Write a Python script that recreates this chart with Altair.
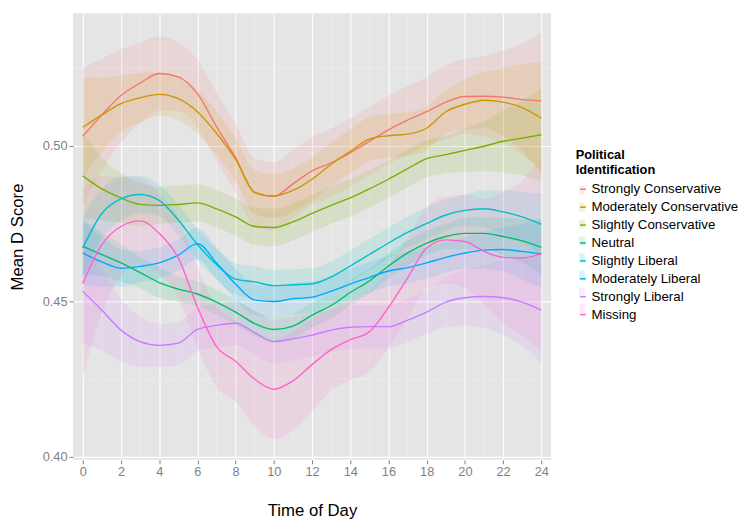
import altair as alt
import pandas as pd

groups = ["Strongly Conservative", "Moderately Conservative", "Slightly Conservative",
          "Neutral", "Slightly Liberal", "Moderately Liberal", "Strongly Liberal", "Missing"]
colors = ["#F8766D", "#CD9600", "#7CAE00", "#00BE67", "#00BFC4", "#00A9FF", "#C77CFF", "#FF61CC"]

hours = list(range(25))
x_ticks = list(range(0, 25, 2))
y_ticks = [0.40, 0.45, 0.50]
x_minor = list(range(1, 25, 2))
y_minor = [0.425, 0.475, 0.525]

strongly_cons = [0.5031, 0.5100, 0.5162, 0.5202, 0.5233, 0.5222, 0.5168, 0.5062, 0.4962, 0.4850,
                 0.4838, 0.4878, 0.4920, 0.4946, 0.4978, 0.5015, 0.5052, 0.5083, 0.5110, 0.5141,
                 0.5159, 0.5160, 0.5157, 0.5149, 0.5145]
moderately_cons = [0.5060, 0.5100, 0.5136, 0.5155, 0.5166, 0.5152, 0.5110, 0.5041, 0.4957, 0.4851,
                   0.4839, 0.4857, 0.4893, 0.4941, 0.4983, 0.5022, 0.5033, 0.5038, 0.5057, 0.5110,
                   0.5134, 0.5147, 0.5141, 0.5123, 0.5089]
slightly_cons = [0.4904, 0.4862, 0.4833, 0.4812, 0.4809, 0.4812, 0.4817, 0.4798, 0.4772, 0.4741,
                 0.4738, 0.4756, 0.4783, 0.4809, 0.4833, 0.4862, 0.4893, 0.4927, 0.4959, 0.4972,
                 0.4986, 0.4999, 0.5015, 0.5025, 0.5036]
neutral = [0.4677, 0.4651, 0.4624, 0.4593, 0.4561, 0.4540, 0.4524, 0.4498, 0.4466, 0.4429,
           0.4410, 0.4421, 0.4456, 0.4487, 0.4529, 0.4566, 0.4614, 0.4656, 0.4688, 0.4709,
           0.4719, 0.4719, 0.4709, 0.4695, 0.4674]
slightly_lib = [0.4672, 0.4783, 0.4830, 0.4844, 0.4825, 0.4762, 0.4683, 0.4619, 0.4572, 0.4563,
                0.4551, 0.4554, 0.4557, 0.4579, 0.4614, 0.4651, 0.4688, 0.4722, 0.4751, 0.4778,
                0.4793, 0.4798, 0.4788, 0.4772, 0.4748]
moderately_lib = [0.4656, 0.4627, 0.4607, 0.4613, 0.4624, 0.4649, 0.4686, 0.4624, 0.4556, 0.4505,
                  0.4500, 0.4509, 0.4514, 0.4533, 0.4556, 0.4577, 0.4598, 0.4609, 0.4624, 0.4642,
                  0.4656, 0.4665, 0.4667, 0.4661, 0.4653]
strongly_lib = [0.4533, 0.4472, 0.4408, 0.4371, 0.4359, 0.4366, 0.4410, 0.4423, 0.4430, 0.4400,
                0.4371, 0.4380, 0.4392, 0.4408, 0.4417, 0.4419, 0.4419, 0.4440, 0.4466, 0.4498,
                0.4512, 0.4516, 0.4512, 0.4498, 0.4472]
missing = [0.4558, 0.4683, 0.4741, 0.4759, 0.4719, 0.4640, 0.4482, 0.4355, 0.4308, 0.4250,
           0.4218, 0.4245, 0.4297, 0.4345, 0.4377, 0.4403, 0.4481, 0.4576, 0.4672, 0.4698,
           0.4693, 0.4661, 0.4642, 0.4640, 0.4653]

# half-widths of the confidence ribbons
strongly_cons_hw = [0.022, 0.018, 0.015, 0.013, 0.012, 0.011, 0.011, 0.011, 0.011, 0.011, 0.011, 0.011, 0.011,
                    0.011, 0.011, 0.011, 0.011, 0.011, 0.011, 0.012, 0.012, 0.013, 0.015, 0.018, 0.022]
moderately_cons_hw = [0.016, 0.012, 0.009, 0.008, 0.007, 0.007, 0.007, 0.007, 0.007, 0.007, 0.007, 0.007, 0.007,
                      0.007, 0.007, 0.007, 0.007, 0.007, 0.007, 0.007, 0.008, 0.009, 0.011, 0.014, 0.018]
slightly_cons_hw = [0.014, 0.010, 0.008, 0.007, 0.006, 0.006, 0.006, 0.006, 0.006, 0.006, 0.006, 0.006, 0.006,
                    0.006, 0.006, 0.006, 0.006, 0.006, 0.006, 0.006, 0.007, 0.008, 0.010, 0.012, 0.015]
neutral_hw = [0.009, 0.007, 0.006, 0.005, 0.005, 0.004, 0.004, 0.004, 0.004, 0.004, 0.004, 0.004, 0.004,
              0.004, 0.004, 0.004, 0.004, 0.004, 0.004, 0.004, 0.005, 0.005, 0.006, 0.007, 0.009]
slightly_lib_hw = [0.010, 0.008, 0.007, 0.006, 0.005, 0.005, 0.005, 0.005, 0.005, 0.005, 0.005, 0.005, 0.005,
                   0.005, 0.005, 0.005, 0.005, 0.005, 0.005, 0.005, 0.005, 0.006, 0.007, 0.008, 0.010]
moderately_lib_hw = [0.010, 0.008, 0.006, 0.005, 0.005, 0.005, 0.005, 0.005, 0.005, 0.005, 0.005, 0.005, 0.005,
                     0.005, 0.005, 0.005, 0.005, 0.005, 0.005, 0.005, 0.005, 0.006, 0.007, 0.009, 0.011]
strongly_lib_hw = [0.017, 0.013, 0.010, 0.008, 0.007, 0.007, 0.007, 0.007, 0.007, 0.007, 0.007, 0.007, 0.007,
                   0.007, 0.007, 0.007, 0.007, 0.007, 0.007, 0.008, 0.009, 0.010, 0.012, 0.014, 0.017]
missing_hw = [0.030, 0.022, 0.016, 0.014, 0.013, 0.013, 0.013, 0.013, 0.013, 0.015, 0.016, 0.016, 0.015,
              0.013, 0.013, 0.013, 0.013, 0.013, 0.013, 0.014, 0.015, 0.017, 0.021, 0.025, 0.031]

series = {
    "Strongly Conservative": (strongly_cons, strongly_cons_hw),
    "Moderately Conservative": (moderately_cons, moderately_cons_hw),
    "Slightly Conservative": (slightly_cons, slightly_cons_hw),
    "Neutral": (neutral, neutral_hw),
    "Slightly Liberal": (slightly_lib, slightly_lib_hw),
    "Moderately Liberal": (moderately_lib, moderately_lib_hw),
    "Strongly Liberal": (strongly_lib, strongly_lib_hw),
    "Missing": (missing, missing_hw),
}

# ribbon keys use a distinct domain so that the ribbon key (background boxes) and the
# line key become two legends drawn on top of each other
band_groups = [g + " " for g in groups]

rows = []
for g, bg in zip(groups, band_groups):
    m, hw = series[g]
    for h, v, w in zip(hours, m, hw):
        rows.append({"group": g, "group_band": bg, "hour": h, "mean": v, "lo": v - w, "hi": v + w})
df = pd.DataFrame(rows)

FONT = "Liberation Sans"
xscale = alt.Scale(domain=[-0.515, 24.51], nice=False, zero=False)
yscale = alt.Scale(domain=[0.3991, 0.5427], nice=False, zero=False)
cscale = alt.Scale(domain=groups, range=colors)
fscale = alt.Scale(domain=band_groups, range=colors)

xaxis = alt.Axis(values=x_ticks, title="Time of Day", titlePadding=25)
yaxis = alt.Axis(values=y_ticks, format=".2f", title="Mean D Score", titlePadding=16)

minor_x = alt.Chart(pd.DataFrame({"x": x_minor})).mark_rule(color="#F2F2F2", strokeWidth=0.6).encode(
    x=alt.X("x:Q", scale=xscale, axis=xaxis))
minor_y = alt.Chart(pd.DataFrame({"y": y_minor})).mark_rule(color="#F2F2F2", strokeWidth=0.6).encode(
    y=alt.Y("y:Q", scale=yscale, axis=yaxis))

KEY_BOX = "M-0.5,-0.64H0.33V0.64H-0.5Z"
KEY_LINE = "M-0.5,0H0.33"
LEG_X = 511
LEG_Y = 138

legend_common = dict(orient="none", legendX=LEG_X, symbolSize=196, rowPadding=3.2,
                     labelFont=FONT, labelFontSize=13.5, labelColor="black", labelOffset=0)

bands = alt.Chart(df).mark_area(opacity=0.13, interpolate="monotone").encode(
    x=alt.X("hour:Q", scale=xscale, axis=xaxis),
    y=alt.Y("lo:Q", scale=yscale, axis=yaxis),
    y2="hi:Q",
    fill=alt.Fill("group_band:N", scale=fscale,
                  legend=alt.Legend(title=None, legendY=LEG_Y + 35, symbolType=KEY_BOX,
                                    symbolOpacity=0.15, symbolStrokeWidth=0,
                                    labelExpr="''", **legend_common)),
)

lines = alt.Chart(df).mark_line(strokeWidth=1.4, interpolate="monotone").encode(
    x=alt.X("hour:Q", scale=xscale, axis=xaxis),
    y=alt.Y("mean:Q", scale=yscale, axis=yaxis),
    stroke=alt.Stroke("group:N", scale=cscale,
                      legend=alt.Legend(title=["Political", "Identification"], legendY=LEG_Y,
                                        symbolType=KEY_LINE, symbolStrokeWidth=1.5,
                                        titleFont=FONT, titleFontSize=13, titleFontWeight="bold",
                                        titleColor="black", titleLineHeight=16, titlePadding=4,
                                        **legend_common)),
)

chart = alt.layer(minor_x, minor_y, bands, lines).properties(
    width=486, height=454, padding={"left": 0, "top": 0, "right": 0, "bottom": 0}
).configure_view(fill="#E5E5E5", strokeWidth=0).configure_axis(
    domain=False, grid=True, gridColor="white", gridWidth=1.1,
    tickColor="#7F7F7F", tickSize=4, labelColor="#7F7F7F", labelFont=FONT, labelFontSize=13,
    labelPadding=2, titleFont=FONT, titleFontSize=17, titleFontWeight="normal", titleColor="black"
)

chart.save("out.html", embed_options={"renderer": "svg", "actions": False})
